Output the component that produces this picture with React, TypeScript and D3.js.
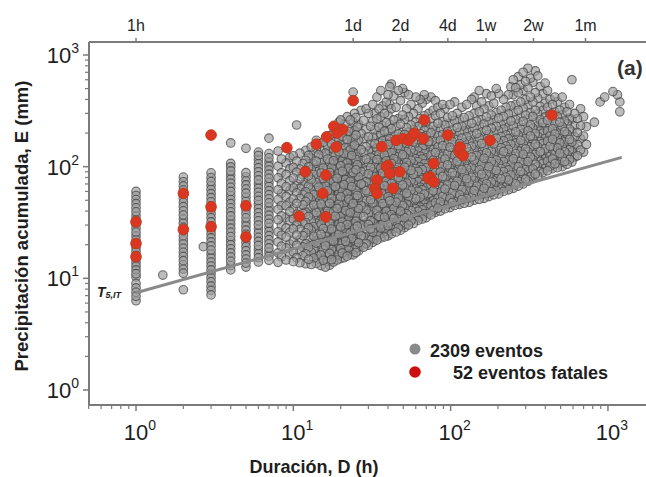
import React from "react";
import * as d3 from "d3";

const W = 646;
const H = 477;

const xMajor = [1, 10, 100, 1000];
const xMajorExp = ["0", "1", "2", "3"];
const yMajor = [1, 10, 100, 1000];
const yMajorExp = ["0", "1", "2", "3"];
const topTickD = [1, 24, 48, 96, 168, 336, 720];
const topTickLabels = ["1h", "1d", "2d", "4d", "1w", "2w", "1m"];

// Gray events: durations (h) of each column; every second value of a column sits at the neighbouring duration
const grayDurations = [
  1, 1.48, 2, 2.68, 3, 4, 5, 6, 7,
  8, 9, 10, 11, 12, 13, 14, 15, 16, 17, 18, 19, 20, 21, 22, 23, 24, 25,
  26, 28, 30, 32, 34, 36, 38, 40, 42, 45, 48, 51, 54, 58, 62, 66, 70, 75, 80, 86, 92, 99,
  106, 114, 122, 131, 141, 152, 163, 175, 188, 202, 217, 233, 250, 269, 289, 310,
  333, 358, 385, 413, 444, 477, 512, 550, 590, 640, 700,
  820, 891, 953, 1076, 1150, 1190,
];
const grayAltDurations = [
  1, 1.48, 2, 2.68, 3, 4, 5, 6, 7,
  8.4, 9.5, 10.5, 11.5, 12.5, 13.5, 14.5, 15.5, 16.5, 17.5, 18.5, 19.5, 20.5, 21.5, 22.5, 23.5, 24.5, 25.5,
  27, 29, 31, 33, 35, 37, 39, 41, 43.5, 46.5, 49.5, 52.5, 56, 60, 64, 68, 72.5, 77.5, 83, 89, 95.5, 102.5,
  110, 118, 126.5, 136, 146.5, 157.5, 169, 181.5, 195, 209.5, 225, 241.5, 259.5, 279, 299.5, 321.5,
  345.5, 371.5, 399, 428.5, 460.5, 494.5, 531, 570, 615, 670, 730,
  820, 891, 953, 1076, 1150, 1190,
];
const grayValues = [
  "6.3 6.9 7.5 8.2 9 10.3 11 11.9 12.8 13.8 14.9 16.1 17.4 18.8 20.4 22.1 24 26 28.3 30.7 33.4 36.2 39.4 42.8 46.6 50.7 55.2 60",
  "10.7",
  "7.9 11.1 12.1 13.2 14.4 15.7 17.1 18.6 20.3 22.1 24.1 26.2 28.6 31.1 33.9 36.9 40.2 43.8 47.7 52 56.6 61.7 67.2 73.2 80.7",
  "19.2",
  "7.1 7.8 8.5 9.3 10.1 11 11.9 12.9 14 15.2 16.5 17.9 19.5 21.2 23 25 27.1 29.5 32 34.8 37.8 41.1 44.6 48.5 52.7 57.3 62.3 67.7 73.6 80 88",
  "11.9 13 14.2 15.5 16.9 18.4 20 21.8 23.7 25.8 28.1 30.6 33.3 36.2 39.4 42.8 46.6 50.7 55.2 60 65.3 71 77.3 84.1 91.5 99.5 107 163",
  "12.6 13.7 14.9 16.2 17.7 19.2 20.9 22.8 24.8 27 29.4 32 34.8 37.9 41.2 44.9 48.9 53.2 57.9 63 68.6 74.6 81.2 88.4 146",
  "14 15.3 16.6 18.1 19.7 21.4 23.3 25.4 27.6 30 32.7 35.6 38.7 42.1 45.8 49.8 54.2 59 64.2 69.8 76 82.7 90 97.9 106 116 126 135",
  "14.5 15.8 17.2 18.7 20.4 22.2 24.1 26.3 28.6 31.1 33.8 36.8 40 43.6 47.4 51.6 56.1 61 66.4 72.3 78.6 85.6 93.1 101 110 120 131 180",
  "13.9 15.6 16.9 19.4 21.2 24.3 26.1 29.7 33.5 36.2 41.4 44.9 50.7 57.3 62.1 70.8 79.4 88 101 117 138",
  "14.6 16.2 18.7 20.3 23.4 25.9 28.3 32.6 35.1 39.7 44.6 48.2 54.1 61.5 66.3 74.9 85.2 96 108 121",
  "14.1 15.3 17.2 19.8 21.6 24.4 27.7 30.1 33.9 37.4 42.2 46.9 51.3 58.2 64.7 70.3 79.1 89.3 98.5 112 125 236",
  "13.8 15.9 17.5 19.1 22.2 24.1 27.4 30.8 33.2 38 41.6 45.5 51.9 56.4 63.8 69.2 77.9 84.6 95.2 107 132",
  "13.5 14.8 16.6 18.9 20.4 23.1 25.6 28.4 31.7 35.8 39.1 43.9 48.8 53.5 59.6 67.1 73.8 82.7 92.5 99.8 114 126 140",
  "13.3 15.2 17.1 18.3 21 23.8 26.7 29.1 32.5 36.9 40.3 45.4 50.2 55.9 61.8 68.3 76.5 85.1 94.4 106 119 133 150",
  "13.6 14.9 16.4 18.5 20.7 22.6 25.3 28.8 31.2 34.7 38.9 43 47.1 52.8 58.4 65.6 72.1 80.6 90.1 101 112 128 145 160 172",
  "13 14.5 16.2 17.9 20.1 22.1 24.8 27.9 30.5 34.1 37.8 42.1 46.3 51.4 57.3 63.1 70.5 78.2 87.7 97.3 109 124 141 165",
  "12.6 14.1 15.7 17.1 19.6 21.5 23.7 26.4 29.6 32.4 36.3 39.9 44.8 49.1 54.9 60.7 67.2 74.8 83.6 92.4 103 117 132 151 180",
  "13.1 14.7 16.7 18.1 20.5 22.4 25.1 27.6 30.9 34.4 38.2 41.9 47 52 57.6 64.1 70.9 79.7 88.6 98.3 110 124 139 160 190",
  "14 15.5 17.4 19 21.6 23.9 26.5 29.4 32.1 36.1 39.4 44.1 48.7 54.2 60.1 66.3 73.5 82.4 90.9 102 113 127 144 168 199 230",
  "14.6 16.4 18.2 20.3 22.1 24.9 27.3 30.7 34 37.5 42.3 46.4 51.6 57.4 63.5 70.8 78.6 87.1 96.8 107 121 136 154 178 212 250",
  "15 16.9 18.5 20.8 23.2 25.6 28.9 31.9 35.6 39.3 43.7 48.9 53.9 60.3 66.5 74.1 82.3 91 102 113 126 141 161 187 262",
  "15.3 17.1 19.2 21.5 23.7 26.8 29.7 32.6 36.7 40.4 45.3 50.1 55.7 62.1 68.9 76.4 85.2 94.3 105 117 131 149 172 200 240",
  "15.8 17.8 19.5 22 24.6 27 30.3 33.7 37.3 41.6 46.4 51.1 57.2 63.4 70.6 78.3 87.1 96.9 108 120 135 152 175 206 280",
  "16.3 18.1 20.6 22.7 25.5 28.1 31.6 35.2 38.6 43.3 48.1 53.6 59.2 66.3 73.6 81.8 90.8 101 113 126 142 160 185 218 262",
  "16.2 18.3 20.1 22.4 24.9 27.8 30.7 34.3 38.1 42.4 46.9 52.4 58.1 64.6 71.7 79.5 88.6 98.2 109 122 137 156 179 210 250 300 465",
  "17 18.9 21.3 23.6 26.1 29.3 32.5 36.1 40.4 44.6 49.8 55.2 61.6 68.2 75.9 84.4 93.8 104 116 130 146 166 192 226 275",
  "17.6 19.5 20.8 24.1 26.2 30 32.1 38.4 42.3 45 52 57.4 64.5 70 81.1 90.2 101 113 124 142 172 198 240 320",
  "19 20.5 23.6 25.4 29.1 31.4 35.8 40.9 43.7 49.8 55.2 61 67.8 73.4 84.5 92.7 106 117 134 151 178 215 260 330",
  "19.8 22.3 23.9 27.6 30.4 32.8 37.9 41.2 46.8 50.6 57.9 63.1 70.9 79.4 86.2 98.1 109 121 138 162 185 230 300",
  "21 22.7 25.8 27.9 31.7 34.1 38.8 43.6 47.3 53.9 58.8 66.1 72.2 81.4 89.9 99.2 112 126 141 160 183 212 255 300 360",
  "22 24.6 26.3 29.8 33.2 35.9 40.8 44.2 50.1 55.3 61.4 67.2 75.8 83.1 93.4 103 116 129 147 164 190 225 268 330 420",
  "23 25.1 28.2 30.7 34.9 37.6 42.9 46.7 52.1 58.5 63.9 71.6 78.4 88.1 97.2 108 121 136 152 171 196 232 280 350 480",
  "23.5 26.4 28.7 32.6 35.3 39.9 44.1 48.9 54.6 60.2 67.4 74.1 82.9 91.6 102 113 127 142 160 181 208 248 300 380",
  "24 26.1 29.6 32 36.3 40.1 43.8 49.6 53.9 61.2 66.8 75.3 82 92.8 101 114 126 141 158 178 204 240 290 360 440 520",
  "25 27.9 30.2 34.4 37.1 42 46.3 51.2 57.6 62.8 70.5 77.2 86.8 95.1 107 118 133 148 167 189 218 262 330 430 550",
  "26 28.3 31.9 34.8 39.2 42.5 48.1 52.3 59.4 64.7 72.8 80.1 89.9 98.6 111 123 137 154 173 197 228 270 340 480",
  "27 29.9 32.4 36.8 39.9 45.1 49.3 55.7 60.9 68.4 75.1 84.6 92.1 104 115 128 143 161 181 206 240 290 390 500",
  "28.5 31 34.9 37.8 42.9 46.6 52.8 57.7 64.9 71.3 80.2 88 98.9 109 122 136 152 171 194 223 265 330 460",
  "30 32.8 36.3 40.5 44.4 49.7 54.2 61.4 66.9 75.2 82.8 92.9 102 114 127 142 159 180 204 236 280 360 440",
  "31 34.3 37.1 42 45.6 51.5 56.4 63.1 69.8 77.9 85.6 96.1 106 118 132 148 166 187 214 250 300 420",
  "33 35.9 39.8 43.6 48.9 53.1 60 65.4 73.7 80.8 90.6 99.4 111 124 138 155 175 198 228 270 330 400",
  "34 37.8 41.1 46.3 50.5 56.8 62.2 69.9 76.6 86.1 94.3 106 117 131 146 164 185 211 242 285 370 440",
  "35 38.1 42.9 46.8 52.6 57.4 64.6 70.8 79.5 87.2 97.8 107 120 134 150 168 190 216 250 300 400",
  "37 40.5 45.2 49.6 55.7 60.9 68.5 75.1 84.3 92.4 104 114 127 142 159 179 202 230 268 320 420",
  "39 42.6 47.4 52 58.6 64 71.9 78.7 88.5 97 109 120 134 150 168 189 214 245 285 340 390",
  "40 44.3 48.2 54.1 59.2 66.5 72.8 81.8 89.6 101 110 124 138 154 172 194 220 252 300 360",
  "42 45.7 51.3 56.1 63 68.9 77.4 84.8 95.3 104 117 130 145 162 182 206 236 275 330",
  "43 47.6 52 58.3 63.9 71.8 78.6 88.3 96.7 109 119 133 149 167 188 213 244 285 360",
  "45 49.1 55.2 60.3 67.8 74.1 83.3 91.3 103 112 126 140 157 176 198 224 258 300 380",
  "46 50.8 55.9 62.4 68.6 76.9 84.3 94.5 104 116 129 144 161 180 203 230 265 340",
  "47 51.9 57.4 63.5 70.3 78.1 86.5 96.2 106 119 132 148 165 185 209 238 275 360",
  "48 53.1 58.2 65.3 71.6 80.4 88.2 99 109 122 136 152 170 191 215 245 285 400",
  "50 54.8 61.3 67 75.2 82.4 92.5 101 114 126 141 157 176 198 223 255 300 350 420",
  "51 56.2 62.3 69.4 76.1 85.3 93.6 105 116 129 144 161 181 204 231 264 310 380 480",
  "52 57.3 64.1 70.2 78.8 86.4 97 107 119 133 149 167 188 212 241 278 330 450",
  "54 59.5 66.2 72.9 81.6 89.5 100 111 124 138 154 173 195 221 252 290 350 430",
  "56 61.2 68.8 75.4 84.6 92.8 104 115 128 143 160 180 203 230 262 305 370 500",
  "57 63.1 69.9 77.8 86.2 96.1 107 119 132 148 165 186 210 238 272 320 450",
  "60 65.8 73.6 80.7 90.3 99.1 111 123 137 153 171 192 217 246 282 340 400",
  "62 68.4 75.9 84.2 93.5 104 115 128 143 159 178 200 226 257 296 350 440 520",
  "64 70.2 78.6 86.1 96.4 106 118 131 146 163 182 205 232 264 305 360 440 510 600",
  "67 73.9 81.7 90.8 100 112 124 138 154 172 192 216 244 278 320 380 460 540 640",
  "70 77.3 85.6 94.2 105 116 129 144 160 179 200 225 255 290 335 400 480 580 700",
  "74 81.2 90.4 99.3 111 122 136 151 168 188 210 237 268 305 355 420 510 620 760",
  "78 85.9 95.1 105 116 129 143 159 177 198 221 249 282 320 380 460 570 720",
  "82 90.6 100 111 123 136 151 168 187 209 234 263 298 345 410 520 650",
  "88 96.2 107 118 131 145 161 179 199 222 248 279 318 370 450 560",
  "92 101 112 124 137 152 169 188 209 233 261 294 340 400 480",
  "96 106 117 129 143 159 176 196 218 243 272 310 360 420",
  "98 108 120 132 147 163 181 201 224 250 282 320 380",
  "100 111 122 136 150 167 185 206 229 256 290 340 420",
  "105 116 129 142 158 175 195 217 242 272 310 360",
  "110 122 135 150 166 185 206 232 265 300 600",
  "125 141 158 178 202 232 270 330",
  "135 158 188 228 280",
  "250",
  "380",
  "420",
  "470",
  "440",
  "310 380",
];

// Fatal events (red)
const fatalD = [
  1, 1, 1, 2, 2, 3, 3, 3, 5, 5, 9.1, 11.9, 10.9, 14, 16.3, 18.1, 20.6, 18.7, 16.1, 15.4,
  16.1, 24, 19, 36.5, 40, 39, 41, 34, 33, 34, 43, 47.5, 45, 50, 54, 56.5, 59, 67, 68, 78,
  74, 72, 78, 96, 113, 115, 120, 178, 440,
];
const fatalE = [
  32, 20.5, 15.6, 57.6, 27.4, 192, 43.7, 29, 44.6, 23.5, 148, 90, 36, 159, 185, 230, 215, 150, 84, 57.6,
  35.5, 390, 200, 151, 103, 100, 87, 76, 64, 57.6, 64, 90, 172, 178, 172, 185, 199, 178, 262, 107,
  81, 79, 73, 192, 136, 150, 126, 172, 290,
];

// Threshold line T5,IT
const thresholdD = [1, 1224];
const thresholdE = [7.43, 121];

const FONT = "'Liberation Sans', Arial, Helvetica, sans-serif";
const AXIS = "#7a7a7a";
const TEXT = "#1e1e1e";

export default function App() {
  const x = d3.scaleLog().domain([0.5, 2000]).range([88.65, 655.3]);
  const y = d3.scaleLog().domain([0.734, 1307]).range([405, 42]);

  const left = 89;
  const top = 42;
  const bottom = 405;

  const grayRaw: { d: number; e: number }[] = [];
  grayDurations.forEach((d, i) => {
    grayValues[i]
      .trim()
      .split(/\s+/)
      .forEach((v, j) => grayRaw.push({ d: j % 2 ? grayAltDurations[i] : d, e: +v }));
  });
  // scrambled drawing order so that overlaps do not form a regular pattern
  const n = grayRaw.length;
  const order = d3.range(n).sort((a, b) => ((a * 7919) % 1013) - ((b * 7919) % 1013) || a - b);
  const grayPts = order.map((k) => grayRaw[k]);
  const redPts = fatalD.map((d, i) => ({ d, e: fatalE[i] }));

  const xMinor: number[] = [];
  [0.1, 1, 10, 100, 1000].forEach((b) => {
    for (let k = 2; k <= 9; k++) {
      const v = b * k;
      if (v >= 0.5 && v <= 2000 && x(v) <= W) xMinor.push(v);
    }
  });
  const yMinor: number[] = [];
  [1, 10, 100].forEach((b) => {
    for (let k = 2; k <= 9; k++) yMinor.push(b * k);
  });

  const line = d3
    .line<number>()
    .x((_, i) => x(thresholdD[i]))
    .y((v) => y(v));

  return (
    <svg
      width={W}
      height={H}
      style={{ position: "absolute", left: 0, top: 0, background: "#fff" }}
      fontFamily={FONT}
    >
      <rect x={0} y={0} width={W} height={H} fill="#fff" />

      {/* gray events */}
      <g>
        {grayPts.map((p, i) => (
          <circle
            key={"g" + i}
            cx={x(p.d)}
            cy={y(p.e)}
            r={4.3}
            fill="#999999"
            fillOpacity={0.65}
            stroke="#444444"
            strokeOpacity={0.75}
            strokeWidth={1.1}
          />
        ))}
      </g>

      {/* threshold line */}
      <path d={line(thresholdE) || ""} stroke="#8a8a8a" strokeWidth={3} fill="none" />

      {/* fatal events */}
      <g>
        {redPts.map((p, i) => (
          <circle
            key={"r" + i}
            cx={x(p.d)}
            cy={y(p.e)}
            r={5.3}
            fill="#dc3522"
            stroke="#b8401f"
            strokeWidth={1}
          />
        ))}
      </g>

      {/* axes lines */}
      <line x1={left} x2={W} y1={top} y2={top} stroke={AXIS} strokeWidth={2} />
      <line x1={left} x2={W} y1={bottom} y2={bottom} stroke={AXIS} strokeWidth={2} />
      <line x1={left} x2={left} y1={top} y2={bottom} stroke={AXIS} strokeWidth={2} />

      {/* bottom ticks */}
      {xMajor.map((v) => (
        <line key={"xM" + v} x1={x(v)} x2={x(v)} y1={bottom} y2={bottom + 6} stroke={AXIS} strokeWidth={1.5} />
      ))}
      {xMinor.map((v) => (
        <line key={"xm" + v} x1={x(v)} x2={x(v)} y1={bottom} y2={bottom + 4} stroke={AXIS} strokeWidth={1.2} />
      ))}
      {xMajor.map((v, i) => (
        <text key={"xl" + v} x={x(v) - 12.2} y={440} fontSize={22} fill={TEXT}>
          10
          <tspan dy={-10} fontSize={14}>
            {xMajorExp[i]}
          </tspan>
        </text>
      ))}

      {/* left ticks */}
      {yMajor.map((v) => (
        <line key={"yM" + v} x1={left - 6} x2={left} y1={y(v)} y2={y(v)} stroke={AXIS} strokeWidth={1.5} />
      ))}
      {yMinor.map((v) => (
        <line key={"ym" + v} x1={left - 4} x2={left} y1={y(v)} y2={y(v)} stroke={AXIS} strokeWidth={1.2} />
      ))}
      {yMajor.map((v, i) => (
        <text key={"yl" + v} x={79} y={y(v) + 8} fontSize={22} fill={TEXT} textAnchor="end">
          10
          <tspan dy={-10} fontSize={14}>
            {yMajorExp[i]}
          </tspan>
        </text>
      ))}

      {/* top ticks */}
      {topTickD.map((v, i) => (
        <g key={"t" + v}>
          <line x1={x(v)} x2={x(v)} y1={top - 4} y2={top} stroke={AXIS} strokeWidth={1.5} />
          <text x={x(v)} y={31} fontSize={16} fill={TEXT} textAnchor="middle">
            {topTickLabels[i]}
          </text>
        </g>
      ))}

      {/* labels */}
      <text x={314} y={473} fontSize={18} fontWeight="bold" fill={TEXT} textAnchor="middle">
        Duración, D (h)
      </text>
      <text
        transform="translate(28,226) rotate(-90)"
        fontSize={18.5}
        fontWeight="bold"
        fill={TEXT}
        textAnchor="middle"
      >
        Precipitación acumulada, E (mm)
      </text>
      <text x={617} y={75} fontSize={21} fontWeight="bold" fill="#333">
        (a)
      </text>
      <text x={97} y={297} fontSize={14} fontWeight="bold" fontStyle="italic" fill={TEXT}>
        T
        <tspan fontSize={9} dy={1}>
          5,IT
        </tspan>
      </text>

      {/* legend */}
      <circle cx={415} cy={349} r={5.5} fill="#8a8a8a" />
      <text x={430} y={357} fontSize={18} fontWeight="bold" fill={TEXT}>
        2309 eventos
      </text>
      <circle cx={415} cy={372} r={5.8} fill="#cc1111" />
      <text x={453} y={379} fontSize={18} fontWeight="bold" fill={TEXT}>
        52 eventos fatales
      </text>
    </svg>
  );
}
